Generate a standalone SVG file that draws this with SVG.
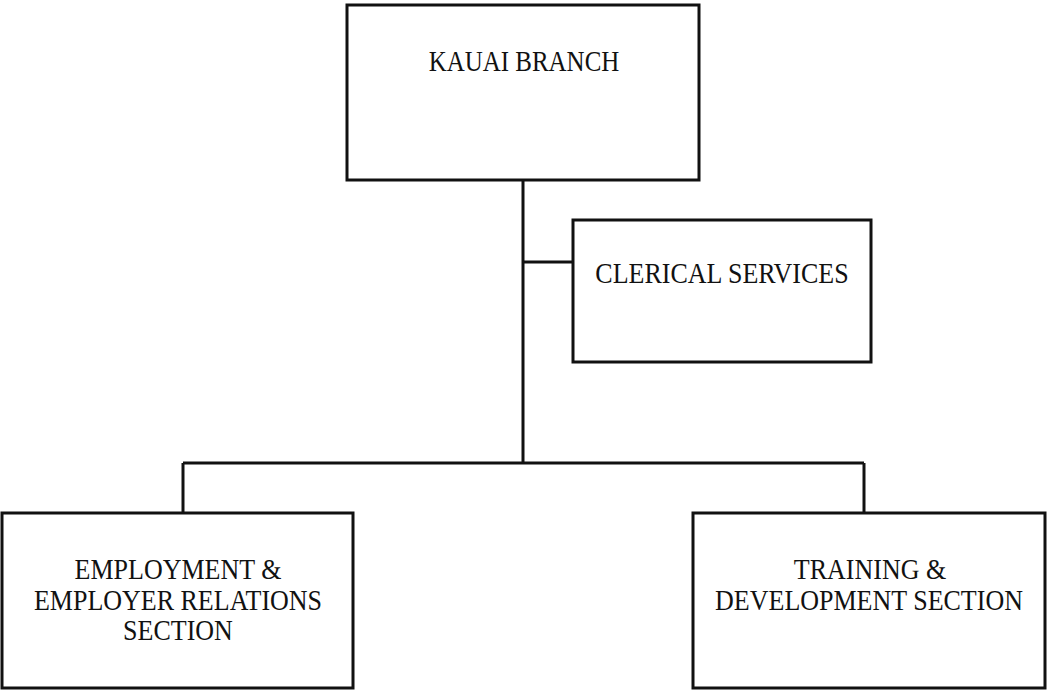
<svg xmlns="http://www.w3.org/2000/svg" width="1048" height="690" viewBox="0 0 1048 690">
  <style>
    .box { fill: #ffffff; stroke: #111111; stroke-width: 3; }
    .wire { fill: none; stroke: #111111; stroke-width: 3; }
    .label { font-family: "Liberation Serif", "Times New Roman", serif; font-size: 26px; fill: #111111; text-anchor: middle; }
  </style>
  <rect width="1048" height="690" fill="#ffffff"/>

  <!-- reporting lines -->
  <g id="connectors">
    <path class="wire" d="M523 180 V463"/>
    <path class="wire" d="M523 262 H573"/>
    <path class="wire" d="M183 463 H864"/>
    <path class="wire" d="M183 463 V513"/>
    <path class="wire" d="M864 463 V513"/>
  </g>

  <g id="kauai-branch">
    <rect class="box" x="347" y="5" width="352" height="175"/>
    <text class="label" transform="translate(524 71) scale(0.96 1.1)">KAUAI BRANCH</text>
  </g>

  <g id="clerical-services">
    <rect class="box" x="573" y="220" width="298" height="142"/>
    <text class="label" transform="translate(722 283) scale(1 1.1)">CLERICAL SERVICES</text>
  </g>

  <g id="employment-section">
    <rect class="box" x="2" y="513" width="351" height="175"/>
    <text class="label" transform="translate(178 579) scale(1 1.1)">EMPLOYMENT &amp;</text>
    <text class="label" transform="translate(178 610) scale(1 1.1)">EMPLOYER RELATIONS</text>
    <text class="label" transform="translate(178 640) scale(1 1.1)">SECTION</text>
  </g>

  <g id="training-section">
    <rect class="box" x="693" y="513" width="352" height="175"/>
    <text class="label" transform="translate(870 579) scale(1 1.1)">TRAINING &amp;</text>
    <text class="label" transform="translate(869 610) scale(1 1.1)">DEVELOPMENT SECTION</text>
  </g>
</svg>
